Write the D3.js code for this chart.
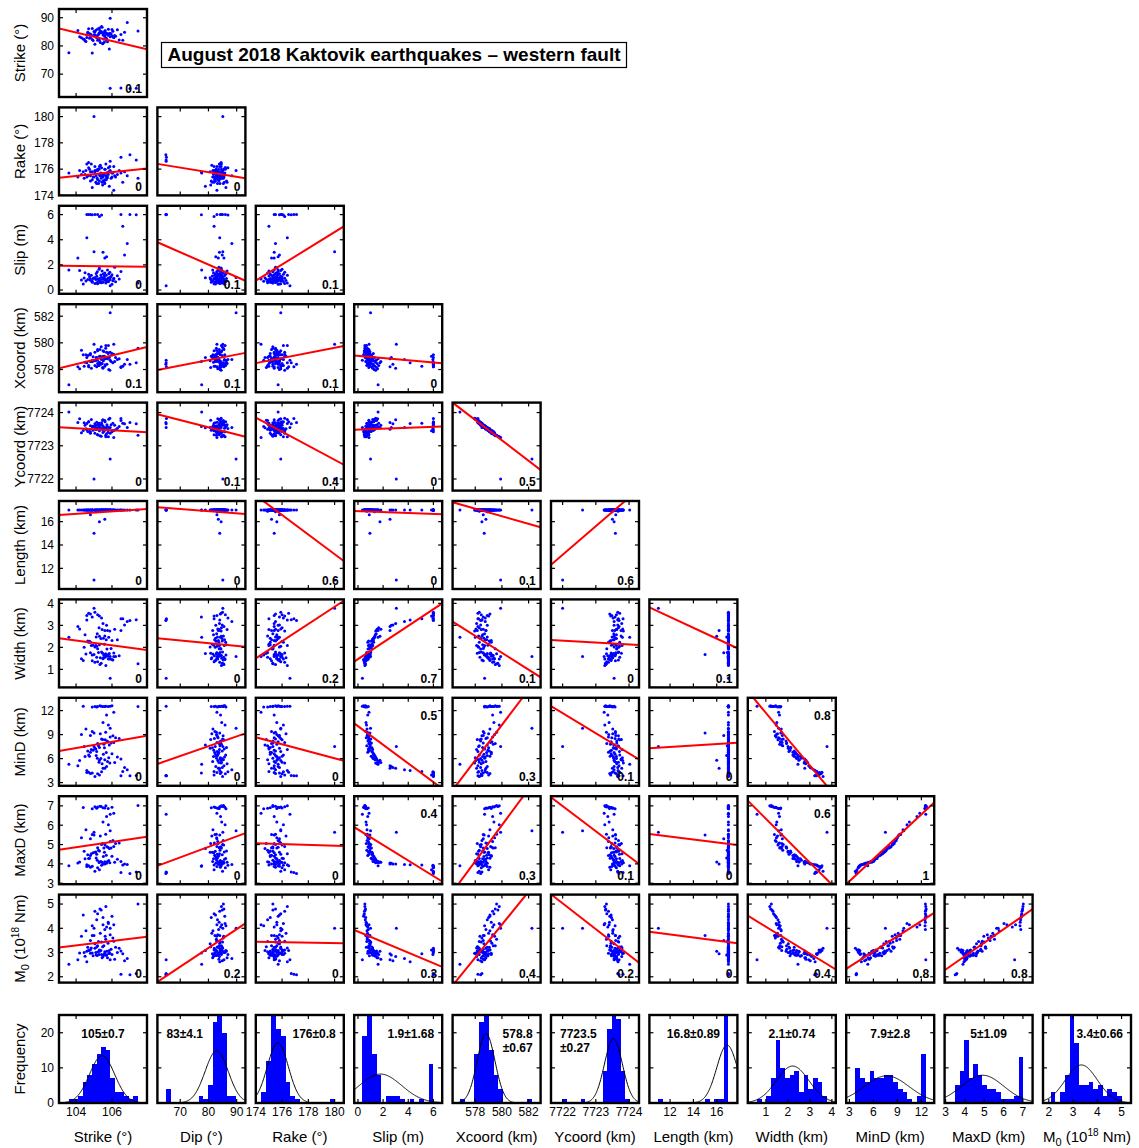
<!DOCTYPE html>
<html>
<head>
<meta charset="utf-8">
<script src="https://cdn.jsdelivr.net/npm/d3@7"></script>
<style>
  body { margin: 0; background: #fff; }
  svg text { font-family: "Liberation Sans", Arial, Helvetica, sans-serif; fill: #000; }
</style>
</head>
<body>
<script>
/* ===== data (one value per earthquake) ===== */

var strike = [
  105.9, 106.5, 107.0, 107.35, 105.0, 105.9, 103.6, 105.0, 105.3, 105.6, 104.8,
  107.45, 104.4, 105.05, 105.15, 105.33, 105.5, 105.66, 105.79, 104.9, 105.2, 105.4, 105.6, 106.0, 106.1, 105.7,
  104.6, 104.8, 104.9, 105.05, 105.2, 105.42, 105.3, 104.7,
  105.5, 104.9, 105.8, 106.2, 104.55, 105.25, 105.65, 106.05, 104.8, 105.35, 105.72, 104.3, 105.1, 105.9, 105.48, 104.65, 106.4, 105.2, 105.62, 104.95, 105.78, 105.3, 106.1, 104.45, 105.55, 105.05, 105.85,
  105.42, 104.75, 105.95, 105.15, 105.58, 106.3, 104.85, 105.68, 105.38, 106.0, 104.7, 105.52, 105.82,
  105.12, 105.6, 104.5, 105.88, 105.18, 106.5, 105.45, 104.2, 105.75, 105.28,
  106.15, 104.1, 105.7, 106.7, 105.5, 106.85, 104.6, 106.6
];
var dip = [
  65.0, 65.1, 64.9, 65.0, 85.1, 89.8, 77.6, 84.0, 84.5, 83.5, 83.0,
  85.3, 82.5, 84.0, 83.2, 85.5, 81.0, 84.6, 83.8, 86.2, 82.0, 84.9, 83.6, 85.8, 83.0, 84.3,
  83.0, 84.2, 77.5, 85.0, 86.0, 86.9, 82.0, 84.5,
  84.7, 82.3, 85.9, 83.4, 81.6, 84.1, 82.8, 85.2, 83.7, 81.2, 84.4, 82.9, 85.6, 83.3, 80.8, 84.9, 82.1, 83.8, 85.4, 81.9, 84.0, 86.4, 83.0, 82.4, 84.6, 80.6, 78.9,
  85.0, 82.7, 84.3, 83.1, 81.4, 85.7, 83.9, 82.2, 84.8, 83.5, 86.1, 82.5, 84.2,
  83.2, 85.3, 81.8, 84.5, 82.9, 84.1, 86.6, 83.3, 81.5, 84.6,
  83.7, 85.5, 82.6, 84.9, 83.9, 88.3, 84.0, 82.0
];
var rake = [
  176.6, 176.9, 177.1, 176.7, 180.0, 175.9, 175.7, 175.4, 175.6, 175.2, 175.8,
  175.3, 175.8, 176.2, 174.9, 175.5, 175.1, 176.4, 175.6, 174.6, 175.9, 175.3, 176.0, 175.7, 174.4, 175.4,
  175.4, 175.5, 175.8, 175.9, 176.0, 176.1, 176.2, 176.5,
  175.6, 175.2, 176.1, 175.4, 175.9, 174.9, 175.5, 175.7, 175.1, 176.3, 175.3, 175.6, 175.0, 175.8, 174.8, 175.5, 175.9, 175.2, 176.0, 175.4, 175.7, 175.1, 176.2, 175.3, 175.6, 175.8, 174.7,
  175.5, 176.0, 175.3, 175.9, 175.0, 175.6, 176.4, 175.2, 175.7, 175.4, 176.1, 175.1, 175.8,
  175.5, 174.9, 175.6, 176.2, 175.3, 175.7, 175.0, 175.9, 175.4, 176.0,
  175.5, 175.4, 175.7, 175.8, 175.4, 175.5, 176.4, 175.0
];
var slip = [
  0.35, 6.0, 6.0, 5.98, 3.05, 1.0, 1.6, 0.95, 1.75, 2.55, 0.9,
  0.55, 0.48, 0.52, 0.58, 0.6, 0.62, 0.55, 0.65, 0.7, 0.5, 0.57, 0.82, 0.45, 0.88, 0.78,
  6.0, 6.0, 5.98, 6.0, 6.0, 5.96, 5.85, 6.0,
  0.64, 0.62, 0.68, 0.66, 0.72, 0.7, 0.75, 0.73, 0.78, 0.76, 0.8, 0.79, 0.83, 0.82, 0.86, 0.84, 0.88, 0.87, 0.9, 0.91, 0.93, 0.92, 0.94, 0.96, 0.95, 0.98, 0.97,
  1.02, 1.05, 1.07, 1.1, 1.12, 1.14, 1.17, 1.18, 1.2, 1.22, 1.25, 1.27, 1.29,
  1.32, 1.35, 1.38, 1.41, 1.45, 1.48, 1.52, 1.56, 1.6, 1.65,
  1.82, 2.55, 2.65, 2.78, 3.0, 3.7, 4.15, 5.08
];
var xcoord = [
  578.7, 578.2, 578.4, 578.5, 579.9, 582.25, 576.85, 578.67, 578.5, 578.8, 578.6,
  579.6, 579.1, 579.3, 578.9, 579.5, 579.0, 579.8, 579.2, 578.7, 579.4, 579.7, 578.8, 579.1, 579.9, 579.3,
  578.9, 579.1, 578.6, 578.3, 578.45, 578.75, 579.0, 578.2,
  579.4, 578.6, 579.8, 578.9, 579.1, 578.3, 579.6, 578.5, 579.2, 579.0, 578.4, 579.45, 578.7, 579.3, 578.15, 579.05, 578.8, 579.5, 578.35, 578.95, 579.25, 578.55, 579.15, 578.25, 579.35, 578.65, 578.9,
  578.45, 579.1, 578.6, 578.2, 579.0, 578.75, 578.1, 578.85, 578.4, 579.2, 578.3, 578.65, 578.0,
  578.9, 578.25, 578.55, 577.95, 578.7, 578.15, 578.45, 578.05, 578.8, 578.3,
  578.6, 578.2, 578.9, 578.4, 578.1, 578.75, 578.5, 578.25
];
var ycoord = [
  7723.55, 7723.82, 7723.70, 7723.66, 7722.0, 7722.6, 7724.02, 7723.59, 7723.55, 7723.50, 7723.60,
  7723.32, 7723.46, 7723.38, 7723.50, 7723.30, 7723.47, 7723.27, 7723.41, 7723.58, 7723.33, 7723.29, 7723.52, 7723.42, 7723.25, 7723.36,
  7723.48, 7723.42, 7723.58, 7723.66, 7723.62, 7723.52, 7723.45, 7723.72,
  7723.40, 7723.59, 7723.27, 7723.48, 7723.51, 7723.67, 7723.32, 7723.68, 7723.38, 7723.51, 7723.63, 7723.39, 7723.62, 7723.38, 7723.77, 7723.43, 7723.58, 7723.33, 7723.72, 7723.47, 7723.46, 7723.61, 7723.46, 7723.69, 7723.44, 7723.55, 7723.54,
  7723.69, 7723.43, 7723.63, 7723.71, 7723.53, 7723.53, 7723.79, 7723.55, 7723.62, 7723.46, 7723.72, 7723.58, 7723.80,
  7723.49, 7723.76, 7723.62, 7723.83, 7723.54, 7723.76, 7723.63, 7723.81, 7723.57, 7723.68,
  7723.62, 7723.70, 7723.55, 7723.66, 7723.78, 7723.55, 7723.67, 7723.68
];
var lengthKm = [
  17, 17, 17, 17, 11.0, 17, 17, 15.0, 16.0, 16.2, 16.6,
  17, 17, 17, 17, 17, 17, 17, 17, 17, 17, 17, 17, 17, 17, 17,
  17, 17, 17, 17, 17, 17, 17, 17,
  17, 17, 17, 17, 17, 16.9, 17, 17, 17, 17, 17, 17, 17, 17, 17, 17, 17, 17, 17, 17, 17, 17, 17, 17, 17, 17, 17,
  17, 17, 17, 17, 17, 17, 17, 17, 17, 17, 17, 17, 17,
  16.85, 17, 17, 17, 17, 17, 17, 17, 17, 17,
  17, 17, 17, 17, 17, 17, 17, 17
];
var width = [
  0.60, 3.30, 3.22, 3.26, 3.78, 1.58, 2.46, 1.68, 2.50, 2.77, 1.75,
  1.25, 1.40, 1.32, 1.55, 1.22, 1.48, 1.18, 1.60, 1.65, 1.35, 1.28, 1.68, 1.45, 1.58, 1.62,
  3.45, 3.52, 3.38, 3.60, 3.48, 3.33, 3.42, 3.55,
  1.50, 1.39, 1.47, 1.58, 1.70, 1.77, 1.71, 1.43, 2.23, 1.53, 1.92, 1.48, 2.09, 1.47, 1.73, 2.29, 1.62, 1.94, 1.55, 2.10, 1.66, 2.12, 1.74, 2.01, 1.63, 2.02, 1.72,
  1.79, 2.28, 1.95, 2.05, 2.14, 2.35, 2.08, 2.35, 2.40, 2.31, 2.23, 2.41, 2.46,
  2.47, 2.52, 2.57, 2.74, 2.62, 2.77, 2.81, 2.83, 2.77, 2.89,
  2.82, 2.95, 3.00, 3.02, 3.08, 3.18, 3.24, 3.30
];
var minD = [
  12.55, 3.86, 3.85, 3.88, 7.50, 9.80, 5.30, 9.20, 5.80, 4.80, 8.90,
  12.5, 12.55, 12.5, 12.45, 12.6, 12.5, 12.55, 12.5, 12.45, 12.5, 12.55, 12.5, 12.6, 11.8, 11.45,
  4.25, 4.15, 4.20, 3.75, 4.10, 4.35, 3.95, 4.30,
  10.5, 9.4, 10.2, 8.6, 9.7, 7.6, 9.3, 8.85, 6.8, 9.1, 8.2, 9.0, 7.2, 8.7, 8.4, 6.95, 8.5, 7.9, 8.35, 7.05, 8.1, 7.4, 8.0, 7.5, 7.8, 7.3, 7.7,
  8.45, 6.3, 7.95, 6.9, 7.35, 6.2, 7.15, 6.75, 6.0, 6.6, 6.45, 6.55, 6.1,
  6.4, 5.85, 6.25, 5.45, 6.05, 5.95, 5.35, 5.75, 5.65, 5.55,
  5.5, 5.1, 5.0, 4.9, 4.8, 4.6, 4.5, 4.4
];
var maxD = [
  6.57, 3.55, 3.50, 3.58, 5.64, 5.72, 3.90, 5.50, 4.10, 4.00, 5.30,
  7.02, 6.92, 6.95, 6.88, 6.98, 6.90, 7.00, 6.86, 6.85, 6.94, 6.97, 6.89, 6.93, 6.62, 6.45,
  3.86, 3.82, 3.88, 3.62, 3.80, 3.93, 3.70, 3.90,
  6.17, 5.52, 6.02, 5.06, 5.77, 4.71, 5.53, 5.21, 4.44, 5.44, 4.89, 5.35, 4.61, 5.16, 5.06, 4.47, 5.08, 4.83, 4.98, 4.58, 4.86, 4.67, 4.90, 4.65, 4.82, 4.60, 4.79,
  5.00, 4.29, 4.82, 4.50, 4.60, 4.24, 4.53, 4.45, 4.13, 4.39, 4.28, 4.38, 4.17,
  4.31, 4.11, 4.26, 4.06, 4.19, 4.12, 4.08, 4.10, 4.12, 4.07,
  4.08, 4.04, 4.03, 4.00, 3.99, 3.97, 3.95, 3.94
];
var m0 = [
  2.70, 2.10, 2.08, 2.14, 4.00, 4.00, 2.52, 3.70, 3.05, 2.95, 3.50,
  5.00, 4.55, 4.70, 4.35, 4.80, 4.45, 4.90, 4.25, 4.10, 4.60, 4.75, 3.95, 4.50, 4.15, 4.05,
  3.05, 3.12, 2.98, 3.18, 3.02, 2.92, 3.10, 3.08,
  4.15, 3.70, 4.20, 3.22, 3.90, 3.46, 3.55, 3.60, 2.97, 3.80, 3.05, 3.67, 3.00, 3.73, 3.24, 3.22, 3.18, 3.28, 3.67, 2.87, 3.38, 3.06, 3.47, 3.00, 3.28, 3.36, 3.08,
  3.43, 3.10, 3.14, 3.23, 2.95, 3.00, 3.19, 2.89, 3.08, 2.92, 3.08, 2.89, 2.96,
  2.90, 3.03, 2.85, 2.97, 2.88, 3.06, 2.78, 2.98, 2.79, 2.92,
  2.72, 2.70, 2.90, 2.66, 2.84, 2.75, 2.62, 2.95
];

/* ===== axis ranges, ticks and labels ===== */

var series = [strike, dip, rake, slip, xcoord, ycoord, lengthKm, width, minD, maxD, m0];

var domains = [
  [103.05, 107.95], [61.9, 93.1], [174, 180.7], [-0.3, 6.7], [576.3, 582.9],
  [7721.65, 7724.3], [10.23, 17.77], [0.18, 4.18], [2.6, 13.6], [2.95, 7.5], [1.76, 5.39]
];
var tickValues = [
  [104, 106], [70, 80, 90], [174, 176, 178, 180], [0, 2, 4, 6], [578, 580, 582],
  [7722, 7723, 7724], [12, 14, 16], [1, 2, 3, 4], [3, 6, 9, 12], [3, 4, 5, 6, 7], [2, 3, 4, 5]
];
var colNames = ['Strike (°)', 'Dip (°)', 'Rake (°)', 'Slip (m)', 'Xcoord (km)', 'Ycoord (km)',
  'Length (km)', 'Width (km)', 'MinD (km)', 'MaxD (km)', 'M0'];
var rowNames = ['Strike (°)', 'Rake (°)', 'Slip (m)', 'Xcoord (km)', 'Ycoord (km)',
  'Length (km)', 'Width (km)', 'MinD (km)', 'MaxD (km)', 'M0'];

var freqDomain = [0, 25.05];
var freqTicks = [0, 10, 20];
var histBins = 15;

// regression line: fitted y at the left and right end of the x range
var fitEnds = [
  [[86.2, 78.8]],
  [[175.35, 176.04], [176.4, 175.3]],
  [[1.93, 1.85], [3.8, 0.74], [0.74, 5.06]],
  [[578.09, 579.7], [577.97, 579.25], [578.48, 579.76], [579.05, 578.48]],
  [[7723.56, 7723.41], [7723.95, 7723.27], [7723.85, 7722.43], [7723.48, 7723.58], [7724.3, 7722.27]],
  [[16.57, 17.08], [17.23, 16.66], [18.25, 12.63], [16.91, 16.63], [17.66, 15.52], [12.3, 18.8]],
  [[2.41, 1.88], [2.41, 2.03], [1.5, 4.12], [1.35, 4.0], [3.17, 0.64], [2.33, 2.11], [3.82, 1.96]],
  [[6.95, 8.86], [5.33, 9.16], [8.66, 5.74], [10.41, 2.25], [2.05, 16.6], [12.57, 5.91], [7.29, 7.99], [14.42, 1.25]],
  [[4.73, 5.41], [3.9, 5.59], [5.07, 4.93], [5.9, 3.09], [2.55, 8.71], [7.44, 4.0], [5.54, 4.98], [7.27, 2.73], [2.95, 7.17]],
  [[3.21, 3.65], [1.79, 4.2], [3.44, 3.38], [3.93, 2.41], [1.64, 6.12], [5.4, 2.58], [3.86, 3.38], [4.52, 2.3], [2.33, 4.64], [2.27, 4.79]]
];
var r2Labels = [
  ['0.1'],
  ['0', '0'],
  ['0', '0.1', '0.1'],
  ['0.1', '0.1', '0.1', '0'],
  ['0', '0.1', '0.4', '0', '0.5'],
  ['0', '0', '0.6', '0', '0.1', '0.6'],
  ['0', '0', '0.2', '0.7', '0.1', '0', '0.1'],
  ['0', '0', '0', '0.5', '0.3', '0.1', '0', '0.8'],
  ['0', '0', '0', '0.4', '0.3', '0.1', '0', '0.6', '1'],
  ['0', '0.2', '0', '0.3', '0.4', '0.2', '0', '0.4', '0.8', '0.8']
];
var r2AtTop = ['7-3', '7-7', '8-3', '8-7'];

var histLabels = [['105±0.7'], ['83±4.1'], ['176±0.8'], ['1.9±1.68'], ['578.8', '±0.67'],
  ['7723.5', '±0.27'], ['16.8±0.89'], ['2.1±0.74'], ['7.9±2.8'], ['5±1.09'], ['3.4±0.66']];
var histSd = [0.7, 4.1, 0.8, 1.68, 0.67, 0.27, 0.89, 0.74, 2.8, 1.09, 0.66];
var histAlign = ['middle', 'start', 'end', 'end', 'end', 'start', 'middle', 'middle', 'middle', 'middle', 'end'];

var title = 'August 2018 Kaktovik earthquakes – western fault';

/* ===== layout ===== */

var w = 1139;
var h = 1148;
var cell = 98.4;
var size = 88;
var left0 = 59;
var top0 = 9;
var histTop = 1015;

var svgFrame = d3.select('body')
  .append('svg')
  .attr('width', w)
  .attr('height', h);

svgFrame.append('defs')
  .append('clipPath')
  .attr('id', 'panelClip')
  .append('rect')
  .attr('width', size)
  .attr('height', size);

var xScales = domains.map(function(d) {
  return d3.scaleLinear().domain(d).range([0, size]);
});
var yScales = domains.map(function(d) {
  return d3.scaleLinear().domain(d).range([size, 0]);
});
var freqScale = d3.scaleLinear().domain(freqDomain).range([size, 0]);

/* ===== helpers ===== */

function frame(g, xScale, xTicks, yScale, yTicks) {
  var tg = g.append('g')
    .attr('stroke', '#000')
    .attr('stroke-width', 1.2);
  xTicks.forEach(function(t) {
    var x = xScale(t);
    tg.append('line').attr('x1', x).attr('x2', x).attr('y1', 0).attr('y2', 4);
    tg.append('line').attr('x1', x).attr('x2', x).attr('y1', size).attr('y2', size - 4);
  });
  yTicks.forEach(function(t) {
    var y = yScale(t);
    tg.append('line').attr('y1', y).attr('y2', y).attr('x1', 0).attr('x2', 4);
    tg.append('line').attr('y1', y).attr('y2', y).attr('x1', size).attr('x2', size - 4);
  });
  g.append('rect')
    .attr('width', size)
    .attr('height', size)
    .attr('fill', 'none')
    .attr('stroke', '#000')
    .attr('stroke-width', 2.4);
}

function m0Text(t) {
  t.append('tspan').text('M');
  t.append('tspan').attr('dy', 4).attr('font-size', 11).text('0');
  t.append('tspan').attr('dy', -4).text(' (10');
  t.append('tspan').attr('dy', -6).attr('font-size', 10).text('18');
  t.append('tspan').attr('dy', 6).text(' Nm)');
}

function nameText(t, name) {
  if (name === 'M0') {
    m0Text(t);
  } else {
    t.text(name);
  }
}

/* ===== scatter panels ===== */

var N = strike.length;

for (var r = 0; r < 10; r++) {
  var yv = r + 1;
  for (var c = 0; c <= r; c++) {
    var xs = xScales[c];
    var ys = yScales[yv];
    var g = svgFrame.append('g')
      .attr('transform', 'translate(' + (left0 + c * cell) + ',' + (top0 + r * cell) + ')');

    var inner = g.append('g').attr('clip-path', 'url(#panelClip)');

    var pts = d3.range(N).map(function(i) {
      return [series[c][i], series[yv][i]];
    });

    inner.selectAll('circle')
      .data(pts)
      .enter()
      .append('circle')
      .attr('cx', function(d) { return xs(d[0]); })
      .attr('cy', function(d) { return ys(d[1]); })
      .attr('r', 1.5)
      .attr('fill', '#0000ff');

    var fit = fitEnds[r][c];
    inner.append('line')
      .attr('x1', xs(domains[c][0]))
      .attr('y1', ys(fit[0]))
      .attr('x2', xs(domains[c][1]))
      .attr('y2', ys(fit[1]))
      .attr('stroke', '#ff0000')
      .attr('stroke-width', 2);

    frame(g, xs, tickValues[c], ys, tickValues[yv]);

    var atTop = r2AtTop.indexOf(r + '-' + c) >= 0;
    g.append('text')
      .attr('x', size - 5)
      .attr('y', atTop ? 22 : size - 4.5)
      .attr('text-anchor', 'end')
      .attr('font-size', 12)
      .attr('font-weight', 'bold')
      .text(r2Labels[r][c]);
  }

  // left tick labels and row title
  var rowTop = top0 + r * cell;
  tickValues[yv].forEach(function(t) {
    svgFrame.append('text')
      .attr('x', left0 - 5)
      .attr('y', rowTop + yScales[yv](t))
      .attr('dy', '0.36em')
      .attr('text-anchor', 'end')
      .attr('font-size', 12)
      .text(t);
  });
  var rt = svgFrame.append('text')
    .attr('transform', 'translate(25,' + (rowTop + size / 2) + ') rotate(-90)')
    .attr('text-anchor', 'middle')
    .attr('font-size', 15);
  nameText(rt, rowNames[r]);
}

/* ===== histograms ===== */

for (var v = 0; v < 11; v++) {
  var vals = series[v];
  var hx = xScales[v];
  var ext = d3.extent(vals);
  var bw = (ext[1] - ext[0]) / histBins;
  var thresholds = d3.range(1, histBins).map(function(i) { return ext[0] + i * bw; });
  var bins = d3.bin().domain(ext).thresholds(thresholds)(vals);

  var hg = svgFrame.append('g')
    .attr('transform', 'translate(' + (left0 + v * cell) + ',' + histTop + ')');
  var hin = hg.append('g').attr('clip-path', 'url(#panelClip)');

  hin.selectAll('rect')
    .data(bins)
    .enter()
    .append('rect')
    .attr('x', function(d) { return hx(d.x0); })
    .attr('width', function(d) { return Math.max(0, hx(d.x1) - hx(d.x0)); })
    .attr('y', function(d) { return freqScale(d.length); })
    .attr('height', function(d) { return freqScale(0) - freqScale(d.length); })
    .attr('fill', '#0000ff')
    .attr('shape-rendering', 'crispEdges');

  // normal curve scaled to the histogram
  var mu = d3.mean(vals);
  var sd = histSd[v];
  var curveX = d3.range(0, 201).map(function(i) {
    return domains[v][0] + i * (domains[v][1] - domains[v][0]) / 200;
  });
  var gauss = d3.line()
    .x(function(x) { return hx(x); })
    .y(function(x) {
      var z = (x - mu) / sd;
      return freqScale(N * bw * Math.exp(-0.5 * z * z) / (sd * Math.sqrt(2 * Math.PI)));
    });
  hin.append('path')
    .attr('d', gauss(curveX))
    .attr('fill', 'none')
    .attr('stroke', '#000')
    .attr('stroke-width', 1);

  frame(hg, hx, tickValues[v], freqScale, freqTicks);

  var anchor = histAlign[v];
  var lx = anchor === 'start' ? 9 : (anchor === 'end' ? size - 8 : size / 2);
  histLabels[v].forEach(function(line, k) {
    hg.append('text')
      .attr('x', lx)
      .attr('y', 22.5 + k * 14)
      .attr('text-anchor', anchor)
      .attr('font-size', 12)
      .attr('font-weight', 'bold')
      .text(line);
  });

  tickValues[v].forEach(function(t) {
    hg.append('text')
      .attr('x', hx(t))
      .attr('y', size + 13)
      .attr('text-anchor', 'middle')
      .attr('font-size', 12)
      .text(t);
  });

  var ct = svgFrame.append('text')
    .attr('x', left0 + v * cell + size / 2)
    .attr('y', 1142)
    .attr('text-anchor', 'middle')
    .attr('font-size', 15);
  nameText(ct, colNames[v]);
}

freqTicks.forEach(function(t) {
  svgFrame.append('text')
    .attr('x', left0 - 5)
    .attr('y', histTop + freqScale(t))
    .attr('dy', '0.36em')
    .attr('text-anchor', 'end')
    .attr('font-size', 12)
    .text(t);
});

svgFrame.append('text')
  .attr('transform', 'translate(25,' + (histTop + size / 2) + ') rotate(-90)')
  .attr('text-anchor', 'middle')
  .attr('font-size', 15)
  .text('Frequency');

/* ===== title box ===== */

svgFrame.append('rect')
  .attr('x', 161.5)
  .attr('y', 42.5)
  .attr('width', 465)
  .attr('height', 25)
  .attr('fill', '#fff')
  .attr('stroke', '#000')
  .attr('stroke-width', 1.2);

svgFrame.append('text')
  .attr('x', 394)
  .attr('y', 61)
  .attr('text-anchor', 'middle')
  .attr('font-size', 19)
  .attr('font-weight', 'bold')
  .text(title);
</script>
</body>
</html>
